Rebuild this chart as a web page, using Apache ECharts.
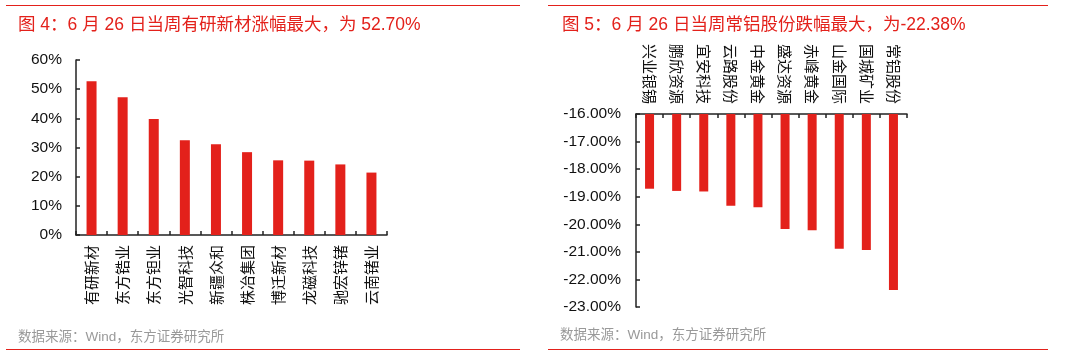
<!DOCTYPE html>
<html>
<head>
<meta charset="utf-8">
<script src="https://cdn.jsdelivr.net/npm/echarts@6/dist/echarts.min.js"></script>
<style>
  html, body { margin: 0; padding: 0; background: #fff; }
  #chart { width: 1068px; height: 355px; }
</style>
</head>
<body>
<div id="chart"></div>
<script>
// 图4：涨幅前十
const riseNames = ["有研新材", "东方锆业", "东方钽业", "光智科技", "新疆众和", "株冶集团", "博迁新材", "龙磁科技", "驰宏锌锗", "云南锗业"];
const riseValues = [52.70, 47.2, 39.8, 32.5, 31.1, 28.4, 25.6, 25.5, 24.2, 21.4];

// 图5：跌幅前十
const fallNames = ["兴业银锡", "鹏欣资源", "宜安科技", "云路股份", "中金黄金", "盛达资源", "赤峰黄金", "山金国际", "国城矿业", "常铝股份"];
const fallValues = [-18.71, -18.79, -18.81, -19.33, -19.38, -20.17, -20.22, -20.89, -20.93, -22.38];

const leftTitle = "图 4：6 月 26 日当周有研新材涨幅最大，为 52.70%";
const rightTitle = "图 5：6 月 26 日当周常铝股份跌幅最大，为-22.38%";
const sourceText = "数据来源：Wind，东方证券研究所";

const RED = "#e3211b";
const FONT = "'Liberation Sans', 'Noto Sans CJK SC', sans-serif";
const CJK = "'Noto Sans CJK SC', sans-serif";

const chart = echarts.init(document.getElementById("chart"));

const axisLine = { show: true, onZero: false, lineStyle: { color: "#222", width: 1.5 } };
const tick = { show: true, inside: true, length: 4, lineStyle: { color: "#222", width: 1.5 } };

const option = {
  animation: false,
  backgroundColor: "#fff",
  title: [
    { text: leftTitle, left: 13, top: 11, textStyle: { color: RED, fontSize: 17.5, fontWeight: "normal", fontFamily: FONT } },
    { text: rightTitle, left: 557, top: 11, textStyle: { color: RED, fontSize: 17.5, fontWeight: "normal", fontFamily: FONT } },
    { text: sourceText, left: 13, top: 326, textStyle: { color: "#999", fontSize: 13.5, fontWeight: "normal", fontFamily: FONT } },
    { text: sourceText, left: 555, top: 324, textStyle: { color: "#999", fontSize: 13.5, fontWeight: "normal", fontFamily: FONT } }
  ],
  graphic: [
    { type: "line", shape: { x1: 6, y1: 5.5, x2: 520, y2: 5.5 }, style: { stroke: RED, lineWidth: 1.2 } },
    { type: "line", shape: { x1: 548, y1: 5.5, x2: 1048, y2: 5.5 }, style: { stroke: RED, lineWidth: 1.2 } },
    { type: "line", shape: { x1: 6, y1: 349.5, x2: 520, y2: 349.5 }, style: { stroke: RED, lineWidth: 1.2 } },
    { type: "line", shape: { x1: 548, y1: 349.5, x2: 1048, y2: 349.5 }, style: { stroke: RED, lineWidth: 1.2 } }
  ],
  grid: [
    { left: 76, top: 60, width: 311, height: 175 },
    { left: 636, top: 114, width: 271, height: 193 }
  ],
  xAxis: [
    {
      type: "category", gridIndex: 0, data: riseNames, position: "bottom",
      axisLine: axisLine, axisTick: tick,
      axisLabel: { rotate: 90, margin: 10, color: "#111", fontSize: 15, fontFamily: CJK, interval: 0 }
    },
    {
      type: "category", gridIndex: 1, data: fallNames, position: "top",
      axisLine: axisLine, axisTick: tick,
      axisLabel: { rotate: 90, margin: 10, color: "#111", fontSize: 15, fontFamily: CJK, interval: 0 }
    }
  ],
  yAxis: [
    {
      type: "value", gridIndex: 0, min: 0, max: 60, interval: 10,
      axisLine: axisLine, axisTick: tick, splitLine: { show: false },
      axisLabel: { formatter: "{value}%", margin: 14, color: "#111", fontSize: 15.5, fontFamily: FONT }
    },
    {
      type: "value", gridIndex: 1, min: -23, max: -16, interval: 1,
      axisLine: axisLine, axisTick: tick, splitLine: { show: false },
      axisLabel: { formatter: (v) => v.toFixed(2) + "%", margin: 15, color: "#111", fontSize: 15.5, fontFamily: FONT }
    }
  ],
  series: [
    {
      type: "bar", xAxisIndex: 0, yAxisIndex: 0, data: riseValues, barWidth: 10,
      itemStyle: { color: RED }
    },
    {
      type: "bar", xAxisIndex: 1, yAxisIndex: 1, data: fallValues, barWidth: 9, clip: true,
      itemStyle: { color: RED }
    }
  ]
};

chart.setOption(option);
</script>
</body>
</html>
